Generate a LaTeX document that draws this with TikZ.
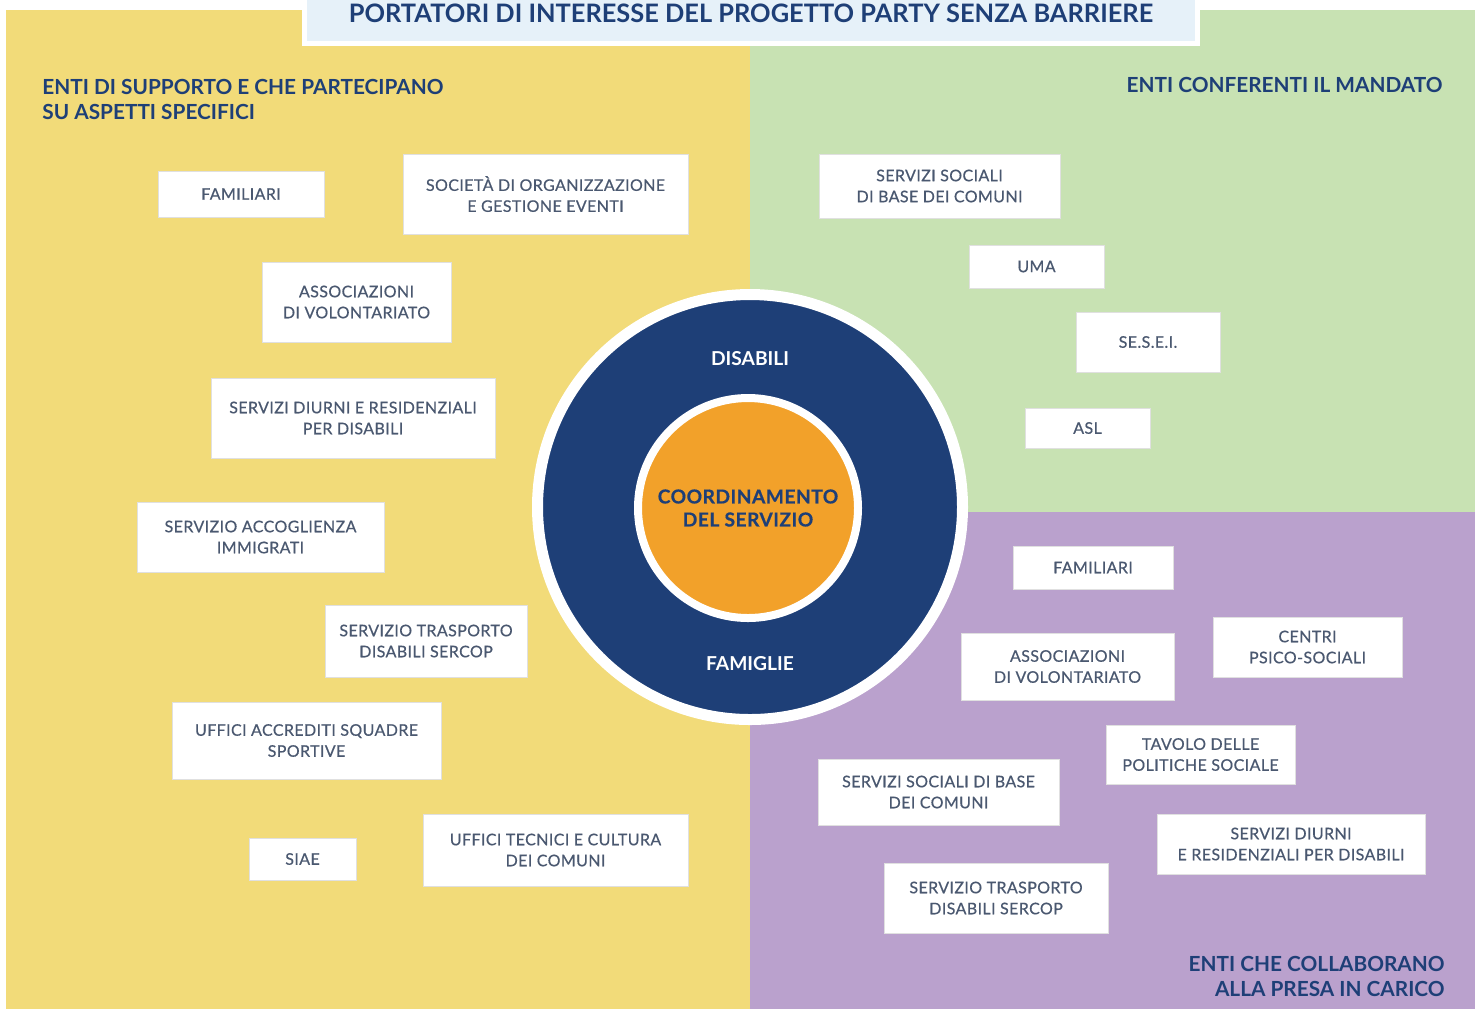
\documentclass[tikz,border=0pt]{standalone}
\usepackage{fontspec}
\setmainfont{Lato}
\newfontfamily\entefont[LetterSpace=2.5, FakeBold=0.5]{Lato}
\usepackage{tikz}
\usetikzlibrary{positioning}
\definecolor{giallo}{HTML}{F2DB79}
\definecolor{verde}{HTML}{C8E2B3}
\definecolor{viola}{HTML}{BAA1CD}
\definecolor{blu}{HTML}{1E3F77}
\definecolor{arancio}{HTML}{F2A12A}
\definecolor{celeste}{HTML}{E6F1F9}
\definecolor{testo}{HTML}{4A5870}
\begin{document}
\begin{tikzpicture}[x=0.5pt,y=-0.5pt,
		ente/.style 2 args={draw=black!12, fill=white, align=center, text=testo,
			minimum width=#1*0.5pt, minimum height=#2*0.5pt, inner sep=0pt,
			font=\entefont\fontsize{8}{10.5}\selectfont},
		gruppo/.style={text=blu, inner sep=0pt, font=\bfseries\fontsize{10.4}{12.5}\selectfont},
		anello/.style={text=white, font=\bfseries\fontsize{9.6}{12}\selectfont}]
		\useasboundingbox (0,0) rectangle (1475,1009);
		\fill [white] (0,0) rectangle (1475,1009);
		\fill [giallo] (6,10) rectangle (750,1009);
		\fill [verde] (750,10) rectangle (1475,512);
		\fill [viola] (750,512) rectangle (1475,1009);
		\node (cornice) at (751,20) [draw=white, line width=2.5pt, fill=celeste, minimum width=893*0.5pt, minimum height=46*0.5pt] {};
		\node (titolo) at (751,13) [text=blu, font=\bfseries\fontsize{12.7}{15}\selectfont] {PORTATORI DI INTERESSE DEL PROGETTO PARTY SENZA BARRIERE};
		\node (supporto) at (42,99) [gruppo, anchor=west, align=left] {ENTI DI SUPPORTO E CHE PARTECIPANO\\SU ASPETTI SPECIFICI};
		\node (mandato) at (1443,85) [gruppo, anchor=east] {ENTI CONFERENTI IL MANDATO};
		\node (collaborano) at (1445,976) [gruppo, anchor=east, align=right] {ENTI CHE COLLABORANO\\ALLA PRESA IN CARICO};
		\node (famiglie) at (750,507) [circle, fill=blu, draw=white, line width=5.5pt, minimum size=425*0.5pt] {};
		\node (coord) at (748,508) [circle, fill=arancio, draw=white, line width=4pt, minimum size=220*0.5pt, text=blu, align=center, font=\entefont\bfseries\fontsize{9.6}{11.5}\selectfont] {COORDINAMENTO\\DEL SERVIZIO};
		\node (disabili) at (750,359) [anello] {DISABILI};
		\node (famlabel) at (750,664) [anello] {FAMIGLIE};
		\node (familiari1) at (241,194) [ente={166}{46}] {FAMILIARI};
		\node (societa) at (545.5,194) [ente={285}{80}] {SOCIETÀ DI ORGANIZZAZIONE\\E GESTIONE EVENTI};
		\node (associazioni1) at (356.5,302) [ente={189}{80}] {ASSOCIAZIONI\\DI VOLONTARIATO};
		\node (diurni1) at (353,418) [ente={284}{80}] {SERVIZI DIURNI E RESIDENZIALI\\PER DISABILI};
		\node (accoglienza) at (260.5,537) [ente={247}{70}] {SERVIZIO ACCOGLIENZA\\IMMIGRATI};
		\node (trasporto1) at (426,641) [ente={202}{72}] {SERVIZIO TRASPORTO\\DISABILI SERCOP};
		\node (accrediti) at (306.5,740.5) [ente={269}{77}] {UFFICI ACCREDITI SQUADRE\\SPORTIVE};
		\node (siae) at (302.5,859) [ente={107}{42}] {SIAE};
		\node (tecnici) at (555.5,850) [ente={265}{72}] {UFFICI TECNICI E CULTURA\\DEI COMUNI};
		\node (sociali1) at (939.5,186) [ente={241}{64}] {SERVIZI SOCIALI\\DI BASE DEI COMUNI};
		\node (uma) at (1036.5,266.5) [ente={135}{43}] {UMA};
		\node (sesei) at (1148,342) [ente={144}{60}] {SE.S.E.I.};
		\node (asl) at (1087.5,428) [ente={125}{40}] {ASL};
		\node (familiari2) at (1093,567.5) [ente={160}{43}] {FAMILIARI};
		\node (associazioni2) at (1067.5,666.5) [ente={213}{67}] {ASSOCIAZIONI\\DI VOLONTARIATO};
		\node (centri) at (1307.5,647) [ente={189}{60}] {CENTRI\\PSICO-SOCIALI};
		\node (tavolo) at (1200.5,754.5) [ente={189}{59}] {TAVOLO DELLE\\POLITICHE SOCIALE};
		\node (sociali2) at (938.5,792) [ente={241}{66}] {SERVIZI SOCIALI DI BASE\\DEI COMUNI};
		\node (diurni2) at (1291,844) [ente={268}{60}] {SERVIZI DIURNI\\E RESIDENZIALI PER DISABILI};
		\node (trasporto2) at (996,898) [ente={224}{70}] {SERVIZIO TRASPORTO\\DISABILI SERCOP};
\end{tikzpicture}
\end{document}
